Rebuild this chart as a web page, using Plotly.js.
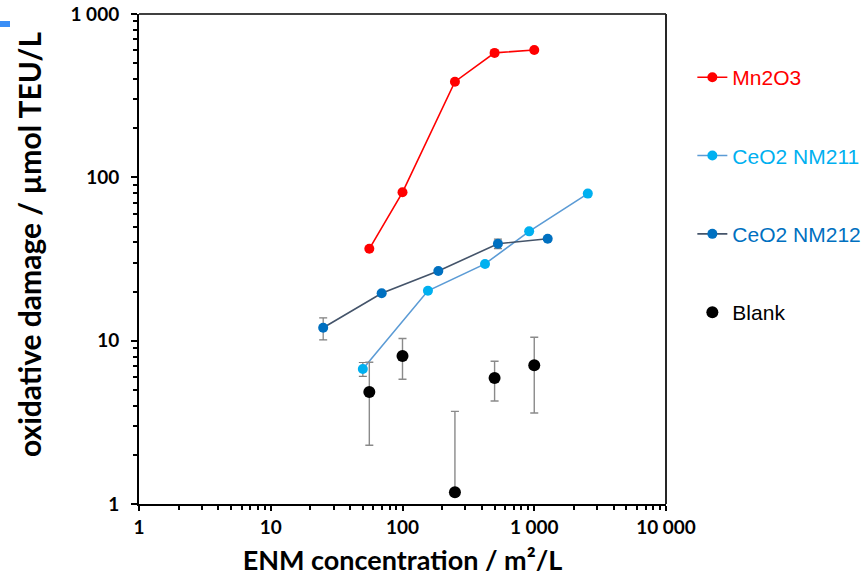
<!DOCTYPE html>
<html>
<head>
<meta charset="utf-8">
<script src="https://cdn.plot.ly/plotly-3.0.1.min.js"></script>
<style>
  html, body { margin: 0; padding: 0; background: #fff; }
  #chart { width: 866px; height: 584px; }
  #mark { position: absolute; left: 0; top: 21px; width: 10px; height: 6px; background: #3a8ef6; z-index: 10; }
</style>
</head>
<body>
<div id="mark"></div>
<div id="chart"></div>
<script>
// ---- data ----
const mnX = [56, 100, 250, 500, 1000];
const mnY = [36.5, 81, 385, 578, 602];

const ce211X = [50, 156, 423, 915, 2550];
const ce211Y = [6.7, 20.2, 29.5, 46.7, 79.5];
const ce211ErrPlus = [0.65, 0.6, 0, 0, 0];
const ce211ErrMinus = [0.65, 0.6, 0, 0, 0];

const ce212X = [25, 69.5, 187, 530, 1265];
const ce212Y = [12.0, 19.5, 26.7, 39.2, 42.1];
const ce212ErrPlus = [1.8, 0, 0, 2.6, 0];
const ce212ErrMinus = [1.9, 0, 0, 2.6, 0];

const blankX = [56, 100, 250, 500, 1000];
const blankY = [4.85, 8.06, 1.18, 5.91, 7.07];
const blankErrPlus = [2.52, 2.25, 2.51, 1.57, 3.43];
const blankErrMinus = [2.56, 2.26, 0, 1.64, 3.46];

const xTickVals = [1, 10, 100, 1000, 10000];
const xTickText = ['1', '10', '100', '1 000', '10 000'];
const yTickVals = [1, 10, 100, 1000];
const yTickText = ['1', '10', '100', '1 000'];

const names = ['Mn2O3', 'CeO2 NM211', 'CeO2 NM212', 'Blank'];
const xTitle = 'ENM concentration / m²/L';
const yTitle = 'oxidative damage / µmol TEU/L';
const colors = {
  mn: '#FF0000',
  ce211: '#00B0F0', ce211Line: '#5B9BD5',
  ce212: '#0070C0', ce212Line: '#44546A',
  blank: '#000000'
};

function minorVals(lo, hi) {
  const out = [];
  for (let e = lo; e < hi; e++) {
    for (let m = 2; m <= 9; m++) out.push(m * Math.pow(10, e));
  }
  return out;
}

const traces = [
  {
    x: mnX, y: mnY, type: 'scatter', mode: 'lines+markers',
    name: '<span style="color:' + colors.mn + '">' + names[0] + '</span>',
    legendgroup: 'a',
    line: { color: colors.mn, width: 1.6 },
    marker: { color: colors.mn, size: 10 }
  },
  {
    x: ce211X, y: ce211Y, type: 'scatter', mode: 'lines+markers',
    name: '<span style="color:' + colors.ce211 + '">' + names[1] + '</span>',
    legendgroup: 'b',
    line: { color: colors.ce211Line, width: 1.6 },
    marker: { color: colors.ce211, size: 10 },
    error_y: { type: 'data', symmetric: false, array: ce211ErrPlus, arrayminus: ce211ErrMinus,
               color: '#7f7f7f', thickness: 1.2, width: 4 }
  },
  {
    x: ce212X, y: ce212Y, type: 'scatter', mode: 'lines+markers',
    name: '<span style="color:' + colors.ce212 + '">' + names[2] + '</span>',
    legendgroup: 'c',
    line: { color: colors.ce212Line, width: 1.6 },
    marker: { color: colors.ce212, size: 10 },
    error_y: { type: 'data', symmetric: false, array: ce212ErrPlus, arrayminus: ce212ErrMinus,
               color: '#7f7f7f', thickness: 1.2, width: 4 }
  },
  {
    x: blankX, y: blankY, type: 'scatter', mode: 'markers',
    name: '<span style="color:' + colors.blank + '">' + names[3] + '</span>',
    legendgroup: 'd',
    marker: { color: colors.blank, size: 12 },
    error_y: { type: 'data', symmetric: false, array: blankErrPlus, arrayminus: blankErrMinus,
               color: '#8a8a8a', thickness: 1.4, width: 4 }
  }
];

const axisFont = { family: 'Lato, "Liberation Sans", sans-serif', size: 19, color: '#000', weight: 'bold' };
const xTitleFont = { family: 'Lato, "Liberation Sans", sans-serif', size: 27, color: '#000', weight: 'bold' };
const yTitleFont = { family: 'Lato, "Liberation Sans", sans-serif', size: 30, color: '#000', weight: 'bold' };

const layout = {
  width: 866, height: 584,
  margin: { l: 139, r: 200, t: 14, b: 80, pad: 0, autoexpand: false },
  paper_bgcolor: '#fff', plot_bgcolor: '#fff',
  showlegend: true,
  legend: {
    x: 1.05, xanchor: 'left', y: 0.912, yanchor: 'top',
    font: { family: '"Liberation Sans", Arial, sans-serif', size: 21, color: '#000' },
    tracegroupgap: 48, itemwidth: 30, bgcolor: 'rgba(0,0,0,0)'
  },
  xaxis: {
    type: 'log', range: [0, 4],
    tickvals: xTickVals, ticktext: xTickText,
    ticks: 'outside', ticklen: 5, tickwidth: 2, tickcolor: '#000',
    showline: true, linecolor: '#000', linewidth: 2,
    showgrid: false, zeroline: false,
    tickfont: axisFont,
    minor: { tickvals: minorVals(0, 4), ticks: 'outside', ticklen: 4, tickwidth: 2, tickcolor: '#000', showgrid: false },
    title: { text: xTitle, font: xTitleFont, standoff: 14 }
  },
  yaxis: {
    type: 'log', range: [0, 3],
    tickvals: yTickVals, ticktext: yTickText,
    ticks: 'outside', ticklen: 6, tickwidth: 2, tickcolor: '#000',
    ticklabelstandoff: 8,
    showline: true, linecolor: '#000', linewidth: 2,
    showgrid: false, zeroline: false,
    tickfont: axisFont,
    minor: { tickvals: minorVals(0, 3), ticks: 'outside', ticklen: 4, tickwidth: 2, tickcolor: '#000', showgrid: false }
  },
  annotations: [
    {
      text: yTitle, font: yTitleFont, textangle: -90, showarrow: false,
      xref: 'paper', yref: 'paper', x: -0.2087, y: 0.5306, xanchor: 'center', yanchor: 'middle'
    }
  ],
  shapes: [
    { type: 'line', xref: 'paper', yref: 'paper', x0: 0, x1: 1, y0: 1, y1: 1, line: { color: '#404040', width: 2 }, layer: 'below' },
    { type: 'line', xref: 'paper', yref: 'paper', x0: 1, x1: 1, y0: 0, y1: 1, line: { color: '#262626', width: 2 }, layer: 'below' }
  ]
};

Plotly.newPlot('chart', traces, layout, { displayModeBar: false, responsive: false });
</script>
</body>
</html>
